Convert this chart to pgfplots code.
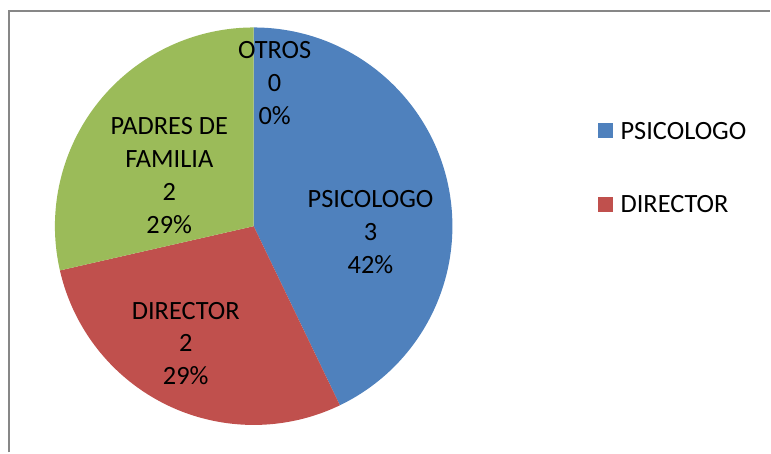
\documentclass[border=0pt]{standalone}
\usepackage{pgfplots}
\pgfplotsset{compat=1.18}
\usepackage{pgfplotstable}
\usepackage{fontspec}
\setmainfont{Carlito}
\definecolor{cblue}{HTML}{4F81BD}
\definecolor{cred}{HTML}{C0504D}
\definecolor{cgreen}{HTML}{9BBB59}
\definecolor{frame}{HTML}{878787}

\pgfplotstableread{
label value
PSICOLOGO 3
DIRECTOR 2
PADRES 2
OTROS 0
}\piedata

% slice angles from the data (clockwise from 12 o'clock)
\pgfplotstablegetelem{0}{value}\of\piedata\let\va\pgfplotsretval
\pgfplotstablegetelem{1}{value}\of\piedata\let\vb\pgfplotsretval
\pgfplotstablegetelem{2}{value}\of\piedata\let\vc\pgfplotsretval
\pgfplotstablegetelem{3}{value}\of\piedata\let\vd\pgfplotsretval
\pgfmathsetmacro{\total}{\va+\vb+\vc+\vd}
\pgfmathsetmacro{\aA}{90-360*\va/\total}
\pgfmathsetmacro{\aB}{\aA-360*\vb/\total}
\pgfmathsetmacro{\aC}{\aB-360*\vc/\total}

\begin{document}
\begin{tikzpicture}
\begin{axis}[
  hide axis, scale only axis,
  width=385.5pt, height=226.5pt,
  xmin=0, xmax=771, ymin=0, ymax=453,
  clip=false]
  \path (axis cs:0,0) rectangle (axis cs:771,453);
  \draw[frame, line width=1pt] (axis cs:9,0) -- (axis cs:9,441.5) -- (axis cs:771,441.5);
  % sectors, r = 199 units = 99.5pt
  \fill[cblue] (axis cs:254,226.5) -- ++(90:99.5pt) arc[start angle=90, end angle=\aA, radius=99.5pt] -- cycle;
  \fill[cred] (axis cs:254,226.5) -- ++(\aA:99.5pt) arc[start angle=\aA, end angle=\aB, radius=99.5pt] -- cycle;
  \fill[cgreen] (axis cs:254,226.5) -- ++(\aB:99.5pt) arc[start angle=\aB, end angle=\aC, radius=99.5pt] -- cycle;
  \begin{scope}[every node/.style={font=\fontsize{13.2}{16.5}\selectfont, align=center, inner sep=0pt}]
  \node at (axis cs:371,221) {PSICOLOGO\\3\\42\%};
  \node at (axis cs:186,109) {DIRECTOR\\2\\29\%};
  \node at (axis cs:169.5,277) {PADRES DE\\FAMILIA\\2\\29\%};
  \node at (axis cs:275,370) {OTROS\\0\\0\%};
  \fill[cblue] (axis cs:598.5,314.5) rectangle (axis cs:613.5,329.5);
  \fill[cred] (axis cs:598.5,241) rectangle (axis cs:613.5,256);
  \node[anchor=west] at (axis cs:621,322) {PSICOLOGO};
  \node[anchor=west] at (axis cs:621,248.5) {DIRECTOR};
  \end{scope}
\end{axis}
\end{tikzpicture}
\end{document}
